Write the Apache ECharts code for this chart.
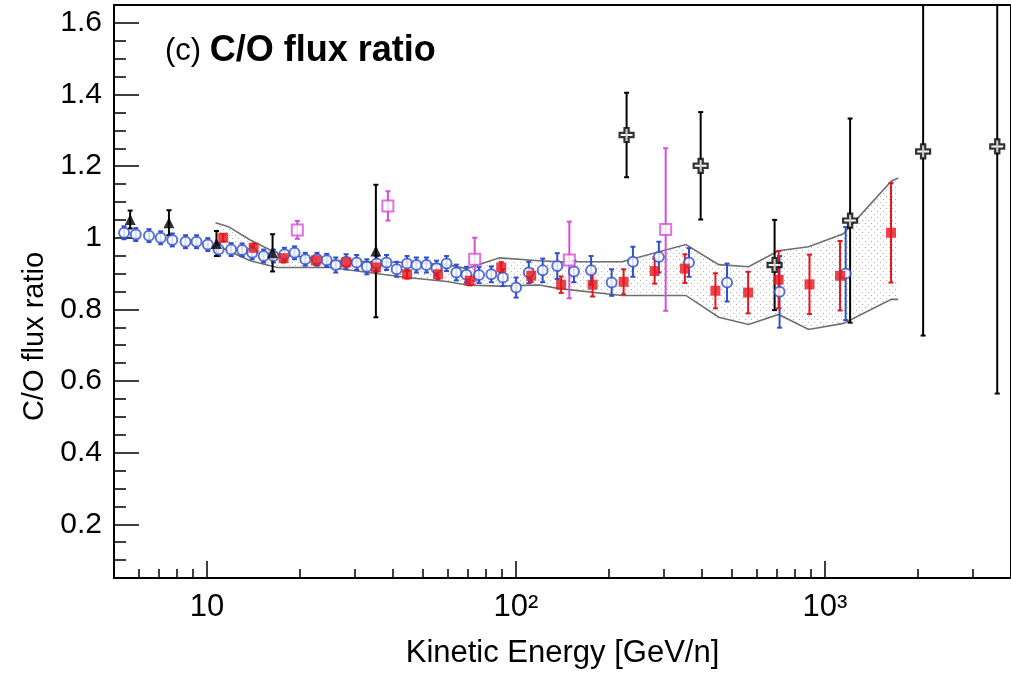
<!DOCTYPE html>
<html><head><meta charset="utf-8">
<script src="https://cdn.jsdelivr.net/npm/echarts@6/dist/echarts.min.js"></script>
<style>html,body{margin:0;padding:0;background:#fff;}#c{width:1011px;height:674px;}</style>
</head><body><div id="c"></div>
<script>
// ---------- data ----------
const blueE = [5.39, 5.88, 6.49, 7.08, 7.72, 8.52, 9.25, 10.06, 10.9, 11.97, 12.99, 14.0, 15.25, 16.4, 17.8, 19.2, 20.8, 22.7, 24.4, 26.1, 28.2, 30.5, 32.9, 35.4, 38.1, 41.1, 44.4, 47.6, 51.3, 55.3, 59.6, 64.1, 69.1, 75.9, 83.2, 90.7, 100.1, 110, 122, 136, 154, 175, 204, 239, 290, 363, 482, 713, 1167];
const blueV = [1.014, 1.009, 1.006, 1.000, 0.994, 0.989, 0.989, 0.981, 0.967, 0.967, 0.966, 0.958, 0.949, 0.949, 0.954, 0.958, 0.940, 0.940, 0.937, 0.924, 0.933, 0.931, 0.919, 0.928, 0.931, 0.912, 0.928, 0.924, 0.924, 0.915, 0.928, 0.903, 0.897, 0.896, 0.898, 0.889, 0.861, 0.903, 0.909, 0.921, 0.906, 0.909, 0.875, 0.933, 0.946, 0.931, 0.875, 0.849, 0.900];
const blueErr = [0.018, 0.018, 0.018, 0.018, 0.018, 0.018, 0.018, 0.018, 0.018, 0.018, 0.018, 0.018, 0.018, 0.018, 0.018, 0.018, 0.018, 0.018, 0.018, 0.021, 0.021, 0.021, 0.021, 0.021, 0.021, 0.021, 0.021, 0.021, 0.021, 0.021, 0.021, 0.022, 0.022, 0.022, 0.022, 0.024, 0.028, 0.030, 0.033, 0.036, 0.030, 0.040, 0.037, 0.042, 0.043, 0.040, 0.053, 0.100, 0.130];

const redE = [11.28, 14.16, 17.69, 22.5, 28.2, 35.2, 44.4, 55.9, 70.8, 89.6, 112, 140, 177, 223, 281, 352, 442, 564, 708, 891, 1119, 1636];
const redV = [1.000, 0.972, 0.943, 0.937, 0.931, 0.917, 0.898, 0.898, 0.880, 0.917, 0.894, 0.869, 0.869, 0.877, 0.907, 0.914, 0.852, 0.847, 0.883, 0.870, 0.894, 1.014];
const redErr = [0.010, 0.012, 0.012, 0.012, 0.012, 0.012, 0.012, 0.013, 0.013, 0.015, 0.018, 0.023, 0.033, 0.035, 0.035, 0.040, 0.049, 0.058, 0.080, 0.083, 0.097, 0.139];

const triE = [5.64, 7.53, 10.73, 16.3, 35.2];
const triV = [1.051, 1.042, 0.984, 0.958, 0.963];
const triErr = [0.025, 0.035, 0.035, 0.052, 0.185];

const magE = [19.6, 38.5, 73.5, 148.8, 305.1];
const magV = [1.022, 1.089, 0.940, 0.938, 1.023];
const magErr = [0.025, 0.041, 0.060, 0.107, 0.227];

const crossE = [228, 396, 687, 1206, 2078, 3610];
const crossV = [1.287, 1.201, 0.924, 1.048, 1.241, 1.255];
const crossErr = [0.118, 0.150, 0.126, 0.285, 0.514, 0.690];

const bandE    = [10.65, 11.73, 13.8, 16.88, 25.0, 44.4, 59.7, 69.2, 88.5, 119, 138, 220.6, 354.8, 453, 566, 708, 885, 1147, 1639, 1726];
const bandHigh = [1.042, 1.031, 0.994, 0.956, 0.936, 0.931, 0.925, 0.914, 0.944, 0.936, 0.933, 0.933, 0.981, 0.925, 0.919, 0.964, 0.975, 1.011, 1.158, 1.167];
const bandLow  = [0.981, 0.964, 0.936, 0.917, 0.917, 0.889, 0.878, 0.868, 0.865, 0.868, 0.858, 0.839, 0.839, 0.778, 0.758, 0.786, 0.744, 0.761, 0.828, 0.828];

const xMajorTicks = [10, 100, 1000];
const xTickLabels = ['10', '10²', '10³'];
const xMinorTicks = [6, 7, 8, 9, 20, 30, 40, 50, 60, 70, 80, 90, 200, 300, 400, 500, 600, 700, 800, 900, 2000, 3000];
const yMajorTicks = [0.2, 0.4, 0.6, 0.8, 1.0, 1.2, 1.4, 1.6];
const yTickLabels = ['0.2', '0.4', '0.6', '0.8', '1', '1.2', '1.4', '1.6'];
const yMinorTicks = [0.1, 0.15, 0.25, 0.3, 0.35, 0.45, 0.5, 0.55, 0.65, 0.7, 0.75, 0.85, 0.9, 0.95, 1.05, 1.1, 1.15, 1.25, 1.3, 1.35, 1.45, 1.5, 1.55];

// ---------- helpers ----------
const FONT = '"Liberation Sans", Arial, Helvetica, sans-serif';
const BLUE = '#2f50cc', RED = '#e5161d', MAG = '#d64fd6', BLK = '#000', BAND = '#6f6f6f';

function pts(E, V) { return E.map((e, i) => [e, V[i]]); }
function errs(E, V, err) { return E.map((e, i) => [e, V[i] - err[i], V[i] + err[i]]); }
function errSeries(data, color, width, cap, z) {
  return {
    type: 'custom', data: data, z: z, clip: true, silent: true,
    encode: { x: 0, y: [1, 2] },
    renderItem: function (params, api) {
      const x = api.value(0);
      const pLo = api.coord([x, api.value(1)]);
      const pHi = api.coord([x, api.value(2)]);
      const st = { stroke: color, lineWidth: width };
      return {
        type: 'group', children: [
          { type: 'line', shape: { x1: pLo[0], y1: pLo[1], x2: pHi[0], y2: pHi[1] }, style: st },
          { type: 'line', shape: { x1: pLo[0] - cap, y1: pLo[1], x2: pLo[0] + cap, y2: pLo[1] }, style: st },
          { type: 'line', shape: { x1: pHi[0] - cap, y1: pHi[1], x2: pHi[0] + cap, y2: pHi[1] }, style: st }
        ]
      };
    }
  };
}

// dotted fill pattern for the band
const pc = document.createElement('canvas');
pc.width = 6; pc.height = 6;
const g = pc.getContext('2d');
g.fillStyle = '#b4b4b4';
g.fillRect(1, 1, 1, 1);
g.fillRect(4, 4, 1, 1);

const crossPath = 'path://M3.5,0 L6.5,0 L6.5,3.5 L10,3.5 L10,6.5 L6.5,6.5 L6.5,10 L3.5,10 L3.5,6.5 L0,6.5 L0,3.5 L3.5,3.5 Z';

const bandData = bandE.map((e, i) => [e, bandLow[i], bandHigh[i]]);
const bandSeries = {
  type: 'custom', data: bandData, z: 1, clip: true, silent: true,
  encode: { x: 0, y: [1, 2] },
  renderItem: function (params, api) {
    if (params.dataIndex !== 0) return null;
    const up = bandData.map(d => api.coord([d[0], d[2]]));
    const lo = bandData.map(d => api.coord([d[0], d[1]]));
    const poly = up.concat(lo.slice().reverse());
    const ls = { stroke: BAND, lineWidth: 1.6, fill: null };
    return {
      type: 'group', children: [
        { type: 'polygon', shape: { points: poly }, style: { fill: { image: pc, repeat: 'repeat' }, stroke: null } },
        { type: 'polyline', shape: { points: up }, style: ls },
        { type: 'polyline', shape: { points: lo }, style: ls }
      ]
    };
  }
};

const chart = echarts.init(document.getElementById('c'), null, { renderer: 'canvas' });
const option = {
  animation: false,
  backgroundColor: '#fff',
  textStyle: { fontFamily: FONT },
  title: {
    text: '{n|(c) }{b|C/O flux ratio}',
    left: 160, top: 28,
    textStyle: {
      rich: {
        n: { fontSize: 31, fontWeight: 'normal', color: '#000', fontFamily: FONT },
        b: { fontSize: 36, fontWeight: 'bold', color: '#000', fontFamily: FONT }
      }
    }
  },
  grid: { left: 114, top: 5, width: 898, height: 575, show: true, borderColor: '#000', borderWidth: 2, containLabel: false },
  xAxis: [
    {
      type: 'log', logBase: 10, min: 5, max: 4000, position: 'bottom',
      axisLine: { show: true, lineStyle: { color: '#000', width: 2 } },
      axisTick: { show: true, inside: true, length: 17, customValues: xMajorTicks, lineStyle: { color: '#000', width: 1.5 } },
      axisLabel: {
        show: true, customValues: xMajorTicks, margin: 14, fontSize: 31, color: '#000', fontFamily: FONT,
        formatter: function (v) { const i = xMajorTicks.findIndex(t => Math.abs(t - v) / t < 1e-6); return i >= 0 ? xTickLabels[i] : ''; }
      },
      splitLine: { show: false }, minorTick: { show: false },
      name: 'Kinetic Energy [GeV/n]', nameLocation: 'middle', nameGap: 60,
      nameTextStyle: { fontSize: 31, color: '#000', fontFamily: FONT }
    },
    {
      type: 'log', logBase: 10, min: 5, max: 4000, position: 'bottom',
      axisLine: { show: false },
      axisTick: { show: true, inside: true, length: 9, customValues: xMinorTicks, lineStyle: { color: '#000', width: 1.5 } },
      axisLabel: { show: false }, splitLine: { show: false }
    }
  ],
  yAxis: [
    {
      type: 'value', min: 0.05, max: 1.65, position: 'left',
      axisLine: { show: true, lineStyle: { color: '#000', width: 2 } },
      axisTick: { show: true, inside: true, length: 25, customValues: yMajorTicks, lineStyle: { color: '#000', width: 1.5 } },
      axisLabel: {
        show: true, customValues: yMajorTicks, margin: 12, fontSize: 30, color: '#000', fontFamily: FONT,
        formatter: function (v) { const i = yMajorTicks.findIndex(t => Math.abs(t - v) < 1e-6); return i >= 0 ? yTickLabels[i] : ''; }
      },
      splitLine: { show: false },
      name: 'C/O flux ratio', nameLocation: 'middle', nameGap: 51,
      nameTextStyle: { fontSize: 29, color: '#000', fontFamily: FONT, padding: [0, 90, 0, 0] }
    },
    {
      type: 'value', min: 0.05, max: 1.65, position: 'left',
      axisLine: { show: false },
      axisTick: { show: true, inside: true, length: 12, customValues: yMinorTicks, lineStyle: { color: '#000', width: 1.5 } },
      axisLabel: { show: false }, splitLine: { show: false }
    }
  ],
  series: [
    bandSeries,
    errSeries(errs(blueE, blueV, blueErr), BLUE, 2, 2.5, 3),
    errSeries(errs(redE, redV, redErr), RED, 2, 2.5, 3),
    errSeries(errs(magE, magV, magErr), MAG, 2, 2.5, 3),
    errSeries(errs(triE, triV, triErr), BLK, 2, 2.5, 3),
    errSeries(errs(crossE, crossV, crossErr), BLK, 2, 2.5, 3),
    {
      name: 'blue', type: 'scatter', z: 5, data: pts(blueE, blueV), symbol: 'circle', symbolSize: 10,
      itemStyle: { color: '#fff', borderColor: BLUE, borderWidth: 2 }
    },
    {
      name: 'red', type: 'scatter', z: 6, data: pts(redE, redV), symbol: 'rect', symbolSize: 10,
      itemStyle: { color: RED }
    },
    {
      name: 'tri', type: 'scatter', z: 6, data: pts(triE, triV), symbol: 'triangle', symbolSize: 11,
      itemStyle: { color: BLK }
    },
    {
      name: 'mag', type: 'scatter', z: 6, data: pts(magE, magV), symbol: 'rect', symbolSize: 11,
      itemStyle: { color: '#fff', borderColor: MAG, borderWidth: 2 }
    },
    {
      name: 'cross', type: 'scatter', z: 7, data: pts(crossE, crossV), symbol: crossPath, symbolSize: 14,
      itemStyle: { color: '#fff', borderColor: BLK, borderWidth: 2.2 }
    }
  ]
};
chart.setOption(option);
</script>
</body></html>
